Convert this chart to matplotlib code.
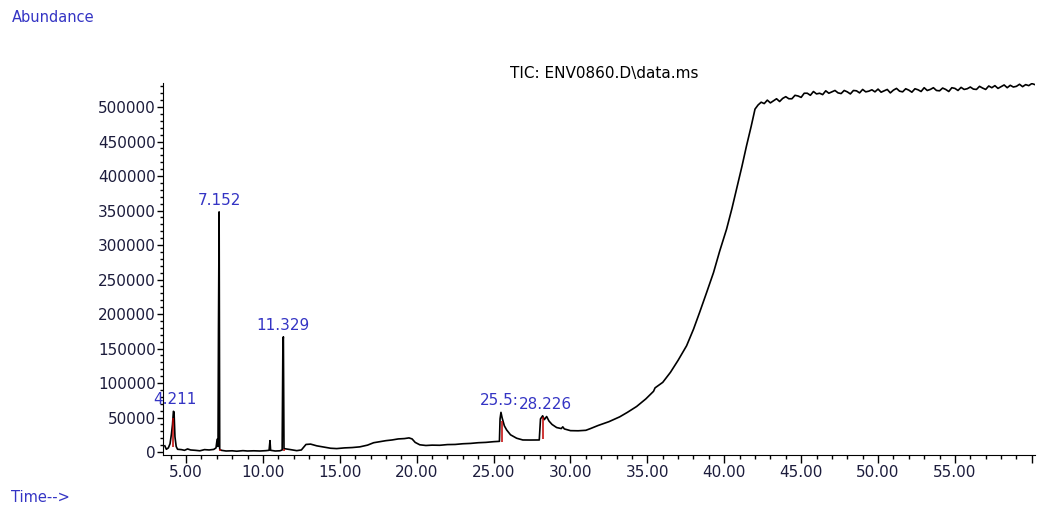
import numpy as np
import matplotlib
matplotlib.use("Agg")
import matplotlib.pyplot as plt
from matplotlib.ticker import MultipleLocator, FixedLocator, FixedFormatter

plt.rcParams["font.family"] = ["DejaVu Sans"]

# retention time (min) and abundance
time_min = [
    3.62, 3.72, 3.85, 3.96, 4.05, 4.12, 4.18, 4.22, 4.28, 4.36,
    4.45, 4.7, 4.9, 5.1, 5.3, 5.6, 5.9, 6.2, 6.5, 6.8,
    6.95, 7.02, 7.08, 7.11, 7.152, 7.19, 7.3, 7.6, 8.0, 8.3,
    8.7, 9.0, 9.4, 9.8, 10.2, 10.4, 10.46, 10.5, 10.8, 11.1,
    11.25, 11.3, 11.33, 11.37, 11.5, 11.8, 12.2, 12.5, 12.8, 13.1,
    13.5, 14.0, 14.4, 14.8, 15.3, 15.8, 16.3, 16.8, 17.2, 17.6,
    18.0, 18.4, 18.8, 19.2, 19.5, 19.7, 19.9, 20.2, 20.6, 21.0,
    21.5, 22.0, 22.5, 23.0, 23.5, 24.0, 24.5, 25.0, 25.38, 25.42,
    25.48, 25.55, 25.7, 25.85, 26.1, 26.5, 26.9, 27.4, 27.97, 28.05,
    28.19, 28.3, 28.45, 28.6, 28.8, 29.1, 29.4, 29.5, 29.6, 30.0,
    30.5, 31.0, 31.3, 31.8, 32.5, 33.2, 33.7, 34.3, 34.9, 35.4,
    35.5, 36.0, 36.5, 37.0, 37.55, 38.0, 38.4, 38.85, 39.3, 39.7,
    40.15, 40.5, 40.8, 41.15, 41.45, 41.75, 42.0, 42.2,
    42.4, 42.6, 42.8, 43.0, 43.2, 43.4, 43.6, 43.8, 44.0, 44.2,
    44.4, 44.6, 44.8, 45.0, 45.2, 45.4, 45.6, 45.8, 46.0, 46.2,
    46.4, 46.6, 46.8, 47.0, 47.2, 47.4, 47.6, 47.8, 48.0, 48.2,
    48.4, 48.6, 48.8, 49.0, 49.2, 49.4, 49.6, 49.8, 50.0, 50.2,
    50.4, 50.6, 50.8, 51.0, 51.2, 51.4, 51.6, 51.8, 52.0, 52.2,
    52.4, 52.6, 52.8, 53.0, 53.2, 53.4, 53.6, 53.8, 54.0, 54.2,
    54.4, 54.6, 54.8, 55.0, 55.2, 55.4, 55.6, 55.8, 56.0, 56.2,
    56.4, 56.6, 56.8, 57.0, 57.2, 57.4, 57.6, 57.8, 58.0, 58.2,
    58.4, 58.6, 58.8, 59.0, 59.2, 59.4, 59.6, 59.8, 60.0, 60.2,
]
abundance = [
    9000, 4000, 6000, 12000, 26000, 40000, 59000, 58000, 22000, 8000,
    4000, 3500, 2500, 4500, 3000, 2500, 1800, 3500, 3000, 3800,
    6000, 18500, 8000, 178000, 348000, 4000, 2500, 1500, 1800, 1200,
    2000, 1500, 1800, 1500, 2000, 2500, 16500, 2500, 1500, 1800,
    3000, 160000, 167000, 5000, 4500, 3500, 2000, 3000, 11000, 11500,
    9000, 7000, 5500, 5000, 6000, 6500, 7500, 10000, 13500, 15000,
    16500, 17500, 19000, 19500, 20500, 19000, 14000, 10500, 9500, 10000,
    9800, 10800, 11000, 12000, 12500, 13500, 14000, 15000, 15500, 48000,
    57500, 50000, 38000, 32000, 25000, 20000, 17500, 17400, 17500, 48000,
    52500, 47000, 51500, 45000, 40000, 35500, 34000, 36500, 33500, 31000,
    30800, 31500, 34000, 38500, 44000, 51000, 57500, 66000, 77000, 88000,
    93000, 101000, 115500, 133000, 154000, 178000, 202500, 231000, 260000, 291000,
    323000, 353000, 381000, 414000, 444000, 472000, 497000, 503000,
    507000, 505000, 510000, 506000, 509000, 512000, 508000, 512500, 515000, 512000,
    512000, 517000, 516000, 514000, 520000, 520000, 517000, 522500, 519000, 520000,
    518000, 523500, 520000, 522000, 524000, 520500, 519500, 524000, 522000, 519000,
    524000, 523500, 520500, 525500, 522000, 523000, 525000, 522000, 526000, 521500,
    523500, 525500, 520500, 524500, 527000, 523000, 522000, 526500, 524500, 521500,
    526500, 525000, 522500, 528000, 524000, 525500, 528000, 524000, 523500, 527500,
    525500, 522500, 528000, 527000, 524000, 528500, 525500, 526500, 529000, 526000,
    525500, 530000, 527500, 525500, 530500, 528000, 531000, 527000, 529500, 532000,
    528000, 531500, 529000, 530000, 533000, 529500, 532500, 531000, 534000, 532500,
]

# integration markers (red) : time, low, high
mark_t = [4.17, 7.2, 11.38, 25.55, 28.23]
mark_lo = [8000, 1000, 1500, 14000, 18500]
mark_hi = [50000, 4000, 5000, 45000, 50500]

# peak labels
peak_labels = ["4.211", "7.152", "11.329", "25.5:", "28.226"]
peak_t = [4.3, 7.152, 11.329, 25.4, 28.35]
peak_h = [59000, 348000, 167000, 57500, 52500]

x_major = [5, 10, 15, 20, 25, 30, 35, 40, 45, 50, 55, 60]
x_labels = ["5.00", "10.00", "15.00", "20.00", "25.00", "30.00",
            "35.00", "40.00", "45.00", "50.00", "55.00", ""]
y_major = [0, 50000, 100000, 150000, 200000, 250000, 300000,
           350000, 400000, 450000, 500000]

fig = plt.figure(figsize=(10.38, 5.05), dpi=100)
ax = fig.add_axes([0.157, 0.099, 0.840, 0.7366])

ax.plot(time_min, abundance, color="black", lw=1.2)
ax.vlines(mark_t, mark_lo, mark_hi, color="#c00000", lw=1.1)

label_blue = "#3434c4"
for txt, t, h in zip(peak_labels, peak_t, peak_h):
    ax.annotate(txt, (t, h), xytext=(0, 3), textcoords="offset points",
                ha="center", va="bottom", fontsize=11, color=label_blue)

ax.set_xlim(3.5, 60.2)
ax.set_ylim(-4300, 534800)

ax.spines["top"].set_visible(False)
ax.spines["right"].set_visible(False)

ax.xaxis.set_major_locator(FixedLocator(x_major))
ax.xaxis.set_major_formatter(FixedFormatter(x_labels))
ax.xaxis.set_minor_locator(MultipleLocator(1))
ax.yaxis.set_major_locator(FixedLocator(y_major))
ax.yaxis.set_minor_locator(MultipleLocator(10000))

tick_col = "#1c1c3c"
ax.tick_params(axis="x", which="major", length=6, width=1, pad=1,
               labelsize=11, labelcolor=tick_col)
ax.tick_params(axis="x", which="minor", length=3, width=1)
ax.tick_params(axis="y", which="major", length=4, width=1, pad=1,
               labelsize=11, labelcolor=tick_col)
ax.tick_params(axis="y", which="minor", length=2.5, width=1)

fig.text(0.5825, 0.855, "TIC: ENV0860.D\\data.ms", ha="center", va="center",
         fontsize=11, color="black")
fig.text(0.011, 1 - 18 / 505, "Abundance", ha="left", va="center",
         fontsize=10.5, color=label_blue)
fig.text(0.011, 1 - 497 / 505, "Time-->", ha="left", va="center",
         fontsize=10.5, color=label_blue)

fig.savefig("out.png", dpi=100)
